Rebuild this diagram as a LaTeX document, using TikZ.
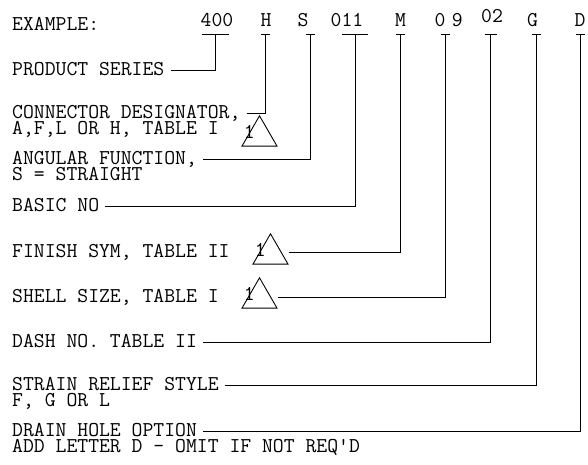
\documentclass[tikz,border=0pt]{standalone}
\usepackage{fontspec}
\usetikzlibrary{positioning,shapes.geometric}

\begin{document}
\begin{tikzpicture}[
        x=1pt, y=-1pt,
        every node/.style={font=\ttfamily\fontsize{21.1}{13.5}\selectfont},
        lbl/.style={anchor=base west, inner sep=0pt, text height=12.9pt, text depth=2.9pt},
        code/.style={anchor=base, inner sep=0pt},
        rev/.style={regular polygon, regular polygon sides=3, draw, line width=0.9pt, minimum size=40.4pt, inner sep=0pt},
        leader/.style={line width=0.9pt},
        gap/.style={shorten <=6pt}
    ]
    \useasboundingbox (0,0) rectangle (588,465);
    % part number with a tick over each field
    \foreach \n/\t/\tx/\sx/\w/\b in {400/400/217/215/13.5/27, H/H/266/265.7/4.5/27,
        S/S/303/310/4.5/27, 011/011/347/355/13/27, M/M/400.5/400.7/4.5/27,
        09/0\hspace{6.4pt}9/448.75/445.7/4.5/27, 02/02/492/490.7/6/23,
        G/G/532.5/536/4.5/27, D/D/580/580.5/4.5/27} {
        \node[code] (c\n) at (\tx,\b) {\t};
        \coordinate (t\n) at (\sx,34);
        \draw[leader] ([xshift=-\w pt]t\n) -- ([xshift=\w pt]t\n);
    }
    \node[lbl] (lEx) at (12,31) {EXAMPLE:};
    \node[lbl] (lSeries) at (12,75.7) {PRODUCT SERIES};
    \node[lbl] (lConn) at (12,118.5) {CONNECTOR DESIGNATOR,};
    \node[lbl, below right=0pt and 0pt of lConn.south west] (lConnB) {A,F,L OR H, TABLE I};
    \node[lbl] (lAng) at (12,164.5) {ANGULAR FUNCTION,};
    \node[lbl, below right=0pt and 0pt of lAng.south west] (lAngB) {S = STRAIGHT};
    \node[lbl] (lBasic) at (12,211) {BASIC NO};
    \node[lbl] (lFinish) at (12,257) {FINISH SYM, TABLE II};
    \node[lbl] (lShell) at (12,302) {SHELL SIZE, TABLE I};
    \node[lbl] (lDash) at (12,347) {DASH NO. TABLE II};
    \node[lbl] (lStrain) at (12,390) {STRAIN RELIEF STYLE};
    \node[lbl, below right=0pt and 0pt of lStrain.south west] (lStrainB) {F, G OR L};
    \node[lbl] (lDrain) at (12,436) {DRAIN HOLE OPTION};
    \node[lbl, below right=0pt and 0pt of lDrain.south west] (lDrainB) {ADD LETTER D - OMIT IF NOT REQ\textquotesingle D};
    % revision triangles
    \node[rev] (tri1) at (259.5,136) {};
    \node[rev] (tri2) at (270.5,254) {};
    \node[rev] (tri3) at (259.5,298) {};
    \foreach \i in {1,2,3}
        \node[code] (one\i) at ([shift={(8,-8)}]tri\i.corner 2) {1};
    % leaders
    \draw[leader, gap] (lSeries.east) -| (t400);
    \draw[leader, gap] (lConn.east) -| (tH);
    \draw[leader, gap] (lAng.east) -| (tS);
    \draw[leader, gap] (lBasic.east) -| (t011);
    \draw[leader] (tri2.corner 3 |- lFinish.east) -| (tM);
    \draw[leader] (tri3.corner 3 |- lShell.east) -| (t09);
    \draw[leader, gap] (lDash.east) -| (t02);
    \draw[leader, gap] (lStrain.east) -| (tG);
    \draw[leader, gap] (lDrain.east) -| (tD);
\end{tikzpicture}
\end{document}
